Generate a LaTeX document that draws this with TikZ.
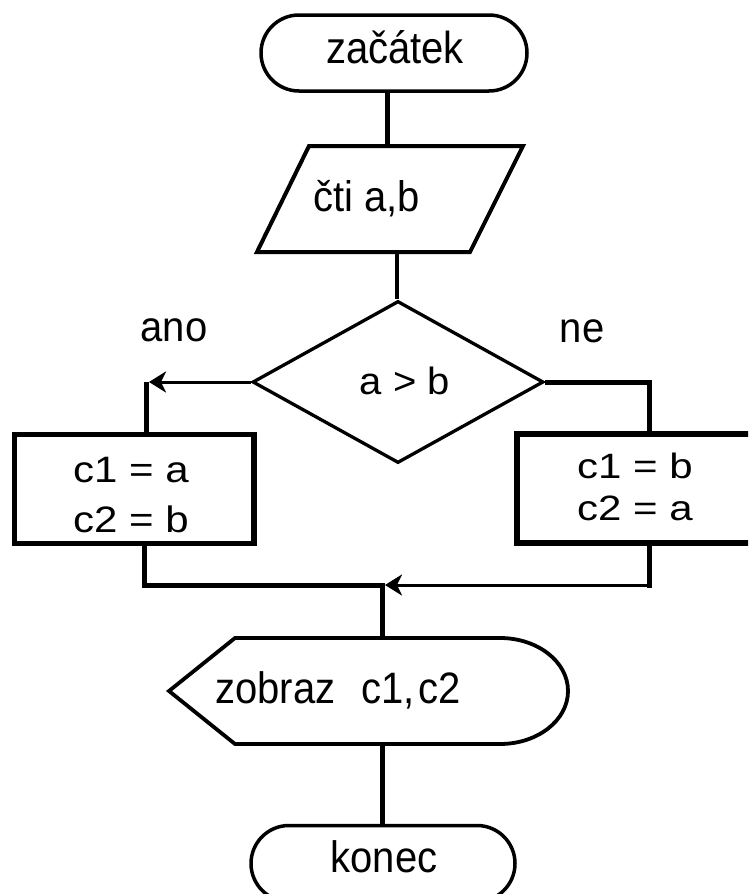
\documentclass[tikz,border=0pt]{standalone}
\usepackage{fontspec}
\setmainfont{Liberation Sans}
\usetikzlibrary{shapes.geometric,shapes.misc,arrows.meta}
\begin{document}
\begin{tikzpicture}[x=1pt,y=-1pt,
  term/.style={rounded rectangle, draw, line width=3.5pt, minimum height=76pt, inner sep=0pt},
  proc/.style={rectangle, draw, line width=5.5pt, inner sep=0pt, minimum width=239.5pt, minimum height=109pt},
  dec/.style={diamond, draw, line width=3.3pt, inner sep=0pt, minimum width=291pt, minimum height=162pt},
  iostyle/.style={line width=4pt, line join=miter},
  dispstyle/.style={line width=3.8pt, line join=miter},
  lbl/.style={inner sep=0pt, font=\fontsize{40}{48}\selectfont, anchor=base},
  thickc/.style={line width=5pt},
  thinc/.style={line width=3pt},
  arr/.style={-{Stealth[length=17pt,width=21pt,inset=5pt]}}
]
\useasboundingbox (0,0) rectangle (748,894);
\clip (0,0) rectangle (748,894);

% start terminal
\node[term, minimum width=266pt] (start) at (394,53) {};
\node[lbl] (startT) at (395,63) {\scalebox{1}[1.12]{začátek}};

% input parallelogram
\coordinate (pTL) at (309,146);
\coordinate (pTR) at (523,146);
\coordinate (pBR) at (470,252);
\coordinate (pBL) at (257,252);
\coordinate (pTop) at (387,146);
\coordinate (pBot) at (397,252);
\draw[iostyle] (pTL) -- (pTR) -- (pBR) -- (pBL) -- cycle;
\node[lbl, anchor=base west] (readT) at (313,211) {\scalebox{1}[1.07]{čti a,b}};

% decision
\node[dec] (dia) at (398,382) {};
\node[lbl] (decT) at (405,394) {\scalebox{1}[0.95]{a > b}};
\node[lbl] (yes) at (174,341) {\scalebox{1}[1.06]{ano}};
\node[lbl] (no) at (582,342) {\scalebox{1}[1.06]{ne}};

% process boxes
\node[proc] (boxL) at (134.25,489) {};
\node[lbl] (boxLa) at (131,482) {\scalebox{1.05}[0.92]{c1 = a}};
\node[lbl] (boxLb) at (131,532) {\scalebox{1.05}[0.92]{c2 = b}};
\node[proc] (boxR) at (636.75,488.6) {};
\node[lbl] (boxRa) at (635,478) {\scalebox{1.05}[0.88]{c1 = b}};
\node[lbl] (boxRb) at (635,520) {\scalebox{1.05}[0.88]{c2 = a}};

% display
\coordinate (dL) at (169,691);
\coordinate (dTL) at (235,638);
\coordinate (dTR) at (500,638);
\coordinate (dR) at (568,691);
\coordinate (dBR) at (500,744);
\coordinate (dBL) at (235,744);
\coordinate (dTop) at (382,638);
\coordinate (dBot) at (382,744);
\draw[dispstyle] (dTL) -- (dTR) .. controls (537.6,638) and (568,661.7) .. (dR)
  .. controls (568,720.3) and (537.6,744) .. (dBR) -- (dBL) -- (dL) -- cycle;
\node[lbl, anchor=base west] (dispT) at (215,703) {\scalebox{1}[1.1]{zobraz\hspace{26pt}c1,\hspace{4pt}c2}};

% end terminal
\node[term, minimum width=264pt] (stop) at (383,863.5) {};
\node[lbl] (stopT) at (384,872) {\scalebox{1}[1.1]{konec}};

% connector points
\coordinate (cL) at (146,382);
\coordinate (cR) at (649,382);
\coordinate (jL) at (144,585);
\coordinate (jR) at (649,585);
\coordinate (junc) at (382,585);

% connectors
\draw[thickc] (pTop |- start.south) -- (pTop);
\draw[line width=4.3pt] (pBot) -- (pBot |- dia.north);
\draw[thinc, arr] (dia.west) -- ([xshift=3pt]cL);
\draw[thickc] (cL) -- (cL |- boxL.north);
\draw[thickc, line join=miter] (dia.east) -- (cR) -- (cR |- boxR.north);
\draw[thickc, line join=miter] (boxL.south -| jL) -- (jL) -- (junc) -- (dTop);
\draw[thickc, line cap=rect] (boxR.south -| jR) -- (jR);
\draw[thinc, arr] (jR) -- ([xshift=3pt]junc);
\draw[thickc] (dBot) -- (dBot |- stop.north);
\end{tikzpicture}
\end{document}
